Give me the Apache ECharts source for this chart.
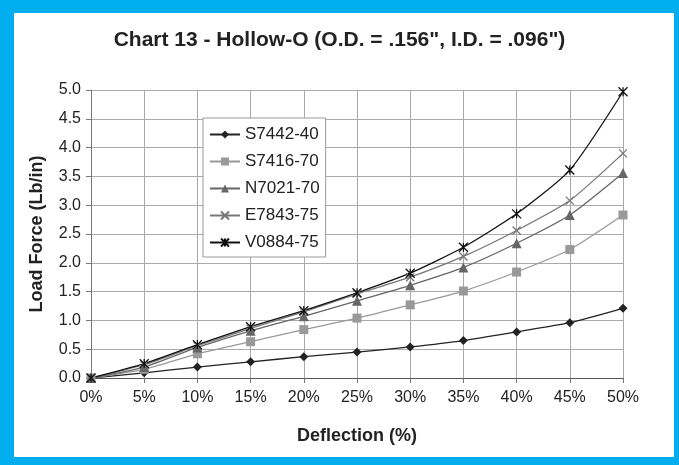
<!DOCTYPE html>
<html><head><meta charset="utf-8">
<script src="https://cdn.jsdelivr.net/npm/echarts@6/dist/echarts.min.js"></script>
<style>
html,body{margin:0;padding:0;background:#fff;}
#frame{position:absolute;left:0;top:0;width:679px;height:465px;background:#00AEEF;}
#panel{position:absolute;left:14px;top:13px;width:660px;height:444px;background:#fff;}
#chart{position:absolute;left:0;top:0;width:679px;height:465px;}
</style></head>
<body>
<div id="frame"><div id="panel"></div></div>
<div id="chart"></div>
<script>
const categories = ['0%','5%','10%','15%','20%','25%','30%','35%','40%','45%','50%'];
const seriesNames = ['S7442-40','S7416-70','N7021-70','E7843-75','V0884-75'];
const s7442_40 = [0,0.09,0.19,0.28,0.37,0.45,0.54,0.65,0.80,0.96,1.21];
const s7416_70 = [0,0.15,0.42,0.63,0.84,1.04,1.27,1.51,1.84,2.23,2.83];
const n7021_70 = [0,0.19,0.53,0.82,1.07,1.34,1.61,1.92,2.34,2.83,3.56];
const e7843_75 = [0,0.23,0.56,0.86,1.15,1.46,1.75,2.11,2.56,3.08,3.90];
const v0884_75 = [0,0.25,0.58,0.89,1.17,1.48,1.82,2.27,2.85,3.61,4.97];
const yTicks = ['0.0','0.5','1.0','1.5','2.0','2.5','3.0','3.5','4.0','4.5','5.0'];

const FONT = 'Liberation Sans, Arial, sans-serif';
const chart = echarts.init(document.getElementById('chart'), null, {renderer:'canvas'});

function mk(name, data, color, symbol, size, hollow) {
  return {
    name, type:'line', data, smooth:0.2,
    symbol, symbolSize:size, showSymbol:true,
    lineStyle:{color, width:1.3},
    itemStyle: hollow ? {color:'rgba(0,0,0,0)', borderColor:color, borderWidth:1.3} : {color, borderWidth:0},
    emphasis:{disabled:true}, animation:false
  };
}

chart.setOption({
  backgroundColor:'transparent',
  animation:false,
  title:{
    text:'Chart 13 - Hollow-O (O.D. = .156", I.D. = .096")',
    left:'center', top:25,
    textStyle:{fontFamily:FONT, fontWeight:'bold', fontSize:21, color:'#222'}
  },
  legend:{
    orient:'vertical', left:203, top:118,
    itemWidth:30, itemHeight:10, itemGap:10,
    padding:[8,6,6,6],
    borderColor:'#999', borderWidth:1, backgroundColor:'#fff',
    textStyle:{fontFamily:FONT, fontSize:17, color:'#222'},
    data: seriesNames
  },
  grid:{left:91, right:56, top:90, bottom:87, containLabel:false},
  xAxis:{
    type:'category', data:categories, boundaryGap:false,
    name:'Deflection (%)', nameLocation:'middle', nameGap:49,
    nameTextStyle:{fontFamily:FONT, fontWeight:'bold', fontSize:18, color:'#222'},
    axisLine:{lineStyle:{color:'#555', width:1}},
    axisTick:{show:true, length:5, lineStyle:{color:'#777'}},
    axisLabel:{fontFamily:FONT, fontSize:16, color:'#222', margin:12},
    splitLine:{show:true, lineStyle:{color:'#aaa', width:1}}
  },
  yAxis:{
    type:'value', min:0, max:5, interval:0.5,
    name:'Load Force (Lb/in)', nameLocation:'middle', nameGap:45,
    nameTextStyle:{fontFamily:FONT, fontWeight:'bold', fontSize:18, color:'#222'},
    axisLine:{show:true, lineStyle:{color:'#777', width:1}},
    axisTick:{show:true, length:5, lineStyle:{color:'#777'}},
    axisLabel:{fontFamily:FONT, fontSize:16, color:'#222', margin:10,
      formatter:(v)=>yTicks[Math.round(v/0.5)] },
    splitLine:{show:true, lineStyle:{color:'#aaa', width:1}}
  },
  series:[
    mk('S7442-40', s7442_40, '#222222', 'diamond', 9, false),
    mk('S7416-70', s7416_70, '#999999', 'rect', 9, false),
    mk('N7021-70', n7021_70, '#666666', 'triangle', 10, false),
    mk('E7843-75', e7843_75, '#777777', 'path://M0,0L10,10M10,0L0,10', 8, true),
    mk('V0884-75', v0884_75, '#111111', 'path://M0,0L10,10M10,0L0,10M5,0L5,10', 9, true)
  ]
});
</script>
</body></html>
